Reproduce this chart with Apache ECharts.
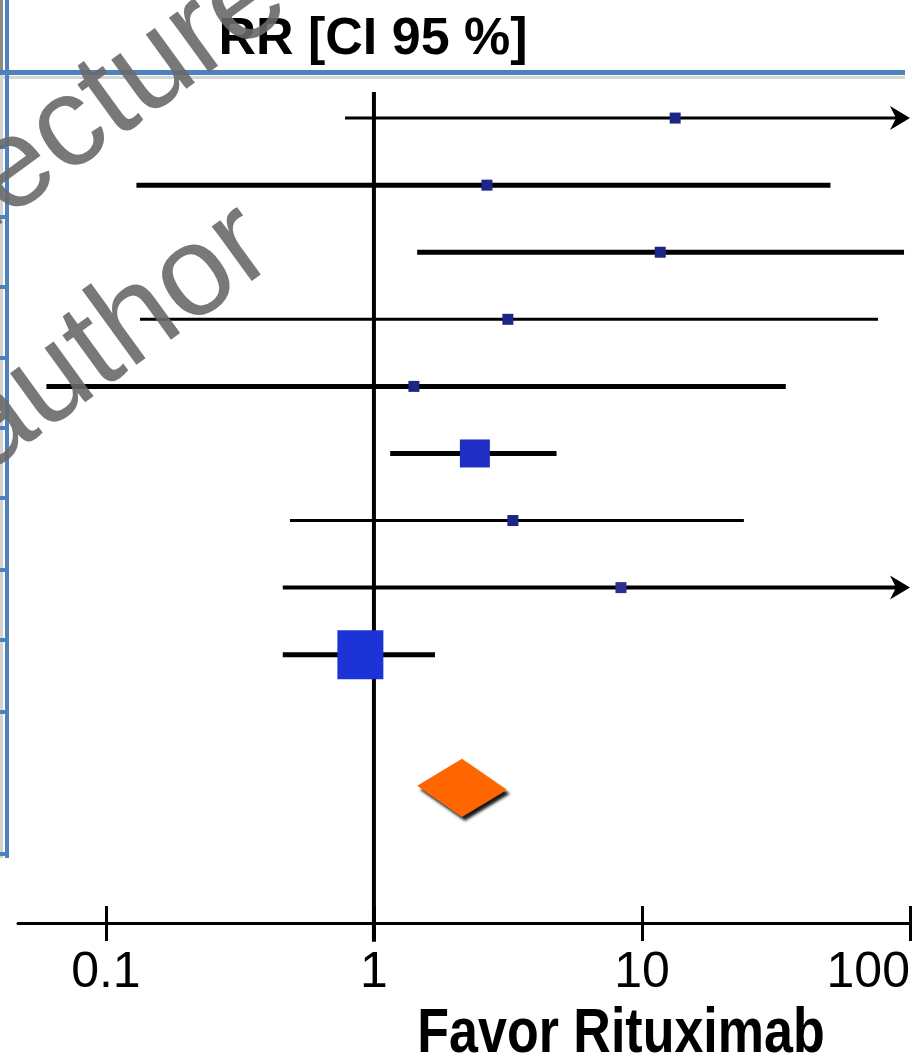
<!DOCTYPE html>
<html><head><meta charset="utf-8">
<script src="https://cdn.jsdelivr.net/npm/echarts@6/dist/echarts.min.js"></script>
<style>html,body{margin:0;padding:0;background:#fff}#c{width:915px;height:1064px}</style>
</head><body><div id="c"></div>
<script>
// ---- data ----
const rowIds   = [0, 1, 2, 3, 4, 5, 6, 7, 8];
const rrValues = [13.3, 2.64, 11.7, 3.16, 1.41, 2.38, 3.30, 8.35, 0.89];
const ciLower  = [0.78, 0.13, 1.45, 0.134, 0.06, 1.15, 0.486, 0.457, 0.457];
const ciUpper  = [150, 50.5, 95, 76, 34.4, 4.8, 24, 150, 1.69];
const pooledRow = 10;
const pooledRR = 2.13;
const pooledLower = 1.45;
const pooledUpper = 3.13;
const xTickValues = [0.1, 1, 10, 100];
const refLineRR = 1;
const refLineRows = [-0.39, 12.28];

// ---- style ----
const X_MIN = 0.047, X_MAX = 100;
const ciWidths = [3, 5, 5, 3, 5, 5, 3, 4, 5];
const squareSizes = [11, 11, 11, 11, 11, [30, 28], 11, 11, [46, 49]];
const squareColors = ['#1c2685', '#1c2685', '#1c2685', '#1c2685', '#1c2685', '#1f2fc4', '#1c2685', '#2a2f8f', '#1c33d8'];
const FONT = '"Liberation Sans", Arial, Helvetica, sans-serif';

const chart = echarts.init(document.getElementById('c'), null, {renderer: 'svg'});

const blue = '#4f81bd';
const graphics = [
  {type: 'rect', shape: {x: 0, y: 0, width: 3, height: 70}, style: {fill: '#8a8a8a'}, z: 1},
  {type: 'rect', shape: {x: 0, y: 74, width: 3, height: 784}, style: {fill: '#d3d3d3'}, z: 1},
  {type: 'rect', shape: {x: 0, y: 76, width: 905, height: 3}, style: {fill: '#d6d6d6'}, z: 1},
  {type: 'rect', shape: {x: 0, y: 70, width: 905, height: 5}, style: {fill: blue}, z: 2},
  {type: 'rect', shape: {x: 5, y: 0, width: 4, height: 858}, style: {fill: blue}, z: 2}
];
[147, 217, 287, 358, 428, 498, 570, 640, 712, 854].forEach(y => {
  graphics.push({type: 'rect', shape: {x: 0, y: y - 2, width: 9, height: 4}, style: {fill: blue}, z: 2});
});
graphics.push(
  {type: 'text', x: 373, y: 36, style: {text: 'RR [CI 95 %]', font: 'bold 52px ' + FONT, fill: '#000', textAlign: 'center', textVerticalAlign: 'middle'}, z: 5},
  {type: 'text', x: 621, y: 1030, scaleY: 1.2, style: {text: 'Favor Rituximab', font: 'bold 52px ' + FONT, fill: '#000', textAlign: 'center', textVerticalAlign: 'middle'}, z: 5},
  {type: 'text', x: 95, y: 100, rotation: 0.628, style: {text: 'Lecture', font: '128px ' + FONT, fill: 'rgba(105,105,105,0.9)', textAlign: 'center', textVerticalAlign: 'middle'}, z: 50},
  {type: 'text', x: 106, y: 332, rotation: 0.628, style: {text: 'author', font: '128px ' + FONT, fill: 'rgba(105,105,105,0.9)', textAlign: 'center', textVerticalAlign: 'middle'}, z: 50}
);

const option = {
  animation: false,
  backgroundColor: '#fff',
  grid: {left: 18, right: 5, top: 51, bottom: 141, outerBoundsMode: 'none', containLabel: false},
  xAxis: [
    {
      type: 'log', logBase: 10, min: X_MIN, max: X_MAX, position: 'bottom',
      axisLine: {show: true, onZero: false, lineStyle: {color: '#000', width: 3}},
      axisTick: {show: true, inside: false, length: 18, customValues: xTickValues, lineStyle: {color: '#000', width: 3}},
      axisLabel: {show: true, customValues: xTickValues, margin: 22, color: '#000', fontSize: 50, fontFamily: FONT,
                  alignMaxLabel: 'right', formatter: v => String(v)},
      splitLine: {show: false}, minorTick: {show: false}
    },
    {
      type: 'log', logBase: 10, min: X_MIN, max: X_MAX, position: 'bottom',
      axisLine: {show: false, onZero: false},
      axisTick: {show: true, inside: true, length: 17, customValues: xTickValues, lineStyle: {color: '#000', width: 3}},
      axisLabel: {show: false},
      splitLine: {show: false}
    }
  ],
  yAxis: {type: 'value', min: -1, max: 12, inverse: true, show: false},
  graphic: graphics,
  series: [
    {
      type: 'line', data: refLineRows.map(r => [refLineRR, r]), symbol: 'none', clip: false, silent: true,
      lineStyle: {color: '#000', width: 4}, z: 2
    },
    {
      type: 'custom', clip: false, z: 3,
      data: rowIds.map((r, i) => [ciLower[i], ciUpper[i], r]),
      encode: {x: [0, 1], y: 2},
      renderItem: function (params, api) {
        const i = params.dataIndex;
        const lo = api.value(0), hi = api.value(1), r = api.value(2);
        const arrow = hi > X_MAX;
        const a = api.coord([lo, r]);
        const b = api.coord([Math.min(hi, X_MAX), r]);
        const ch = [{type: 'line', shape: {x1: a[0], y1: a[1], x2: arrow ? b[0] - 12 : b[0], y2: b[1]},
                     style: {stroke: '#000', lineWidth: ciWidths[i]}}];
        if (arrow) {
          ch.push({type: 'polygon', shape: {points: [[b[0], b[1]], [b[0] - 20, b[1] - 12], [b[0] - 14, b[1]], [b[0] - 20, b[1] + 12]]},
                   style: {fill: '#000'}});
        }
        return {type: 'group', children: ch};
      }
    },
    {
      type: 'scatter', z: 4, symbol: 'rect',
      data: rowIds.map((r, i) => [rrValues[i], r]),
      symbolSize: (v, p) => squareSizes[p.dataIndex],
      itemStyle: {color: p => squareColors[p.dataIndex], opacity: 1}
    },
    {
      type: 'custom', clip: false, z: 4,
      data: [[pooledLower, pooledUpper, pooledRR, pooledRow]],
      encode: {x: [0, 1, 2], y: 3},
      renderItem: function (params, api) {
        const l = api.coord([api.value(0), api.value(3)]);
        const rgt = api.coord([api.value(1), api.value(3)]);
        const c = api.coord([api.value(2), api.value(3)]);
        return {type: 'polygon', shape: {points: [[l[0], l[1] - 3], [c[0], c[1] - 30], [rgt[0], rgt[1] + 1], [c[0], c[1] + 28]]},
                style: {fill: '#ff6600', shadowBlur: 3, shadowColor: 'rgba(0,0,0,0.9)', shadowOffsetX: 3, shadowOffsetY: 4}};
      }
    }
  ]
};
chart.setOption(option);
</script></body></html>
